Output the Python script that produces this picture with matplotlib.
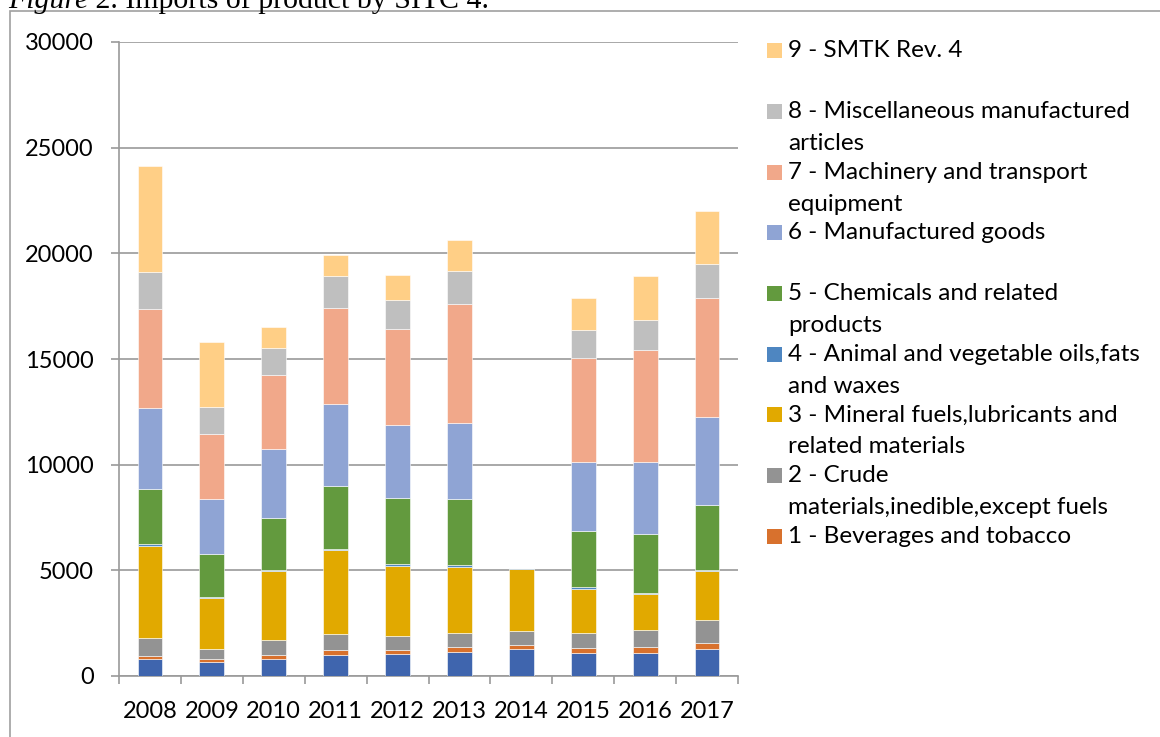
import matplotlib
matplotlib.use("Agg")
import matplotlib.pyplot as plt
from matplotlib.patches import Rectangle
import numpy as np

plt.rcParams['font.family'] = ['Lato', 'DejaVu Sans']

years = ['2008', '2009', '2010', '2011', '2012', '2013', '2014', '2015', '2016', '2017']

# imports by SITC section, bottom of the stack first
s0_food = [820, 680, 820, 1010, 1055, 1150, 1260, 1070, 1070, 1260]
s1_beverages = [130, 140, 175, 200, 190, 235, 190, 235, 300, 300]
s2_crude = [840, 470, 695, 800, 630, 630, 690, 740, 800, 1090]
s3_fuels = [4380, 2380, 3280, 3970, 3340, 3150, 2900, 2080, 1720, 2300]
s4_oils = [80, 60, 50, 50, 65, 80, 65, 80, 35, 60]
s5_chemicals = [2590, 2020, 2470, 2980, 3120, 3150, 0, 2650, 2775, 3105]
s6_goods = [3860, 2630, 3260, 3860, 3500, 3580, 0, 3280, 3435, 4140]
s7_machinery = [4650, 3090, 3470, 4560, 4540, 5640, 0, 4930, 5310, 5640]
s8_misc = [1750, 1260, 1310, 1510, 1350, 1560, 0, 1325, 1420, 1610]
s9_smtk = [5010, 3090, 980, 960, 1170, 1435, 0, 1515, 2065, 2475]

series = [s0_food, s1_beverages, s2_crude, s3_fuels, s4_oils,
          s5_chemicals, s6_goods, s7_machinery, s8_misc, s9_smtk]
colors = ['#3F65AE', '#D8712D', '#939393', '#E1A900', '#4E86C1',
          '#639A3E', '#8FA4D4', '#F1A88A', '#BFBFBF', '#FFCF86']

# legend text as wrapped in the original (entry 0 is cut off there)
legend_lines = [
    ['1 - Beverages and tobacco'],
    ['2 - Crude', 'materials,inedible,except fuels'],
    ['3 - Mineral fuels,lubricants and', 'related materials'],
    ['4 - Animal and vegetable oils,fats', 'and waxes'],
    ['5 - Chemicals and related', 'products'],
    ['6 - Manufactured goods'],
    ['7 - Machinery and transport', 'equipment'],
    ['8 - Miscellaneous manufactured', 'articles'],
    ['9 - SMTK Rev. 4'],
]

W, H = 1160, 737
fig = plt.figure(figsize=(W / 100, H / 100), dpi=100)
ax = fig.add_axes([119 / W, (H - 676) / H, (738 - 119) / W, (676 - 42) / H])

grid_c = '#9A9A9A'
x = np.arange(len(years))
bottom = np.zeros(len(years))
for vals, c in zip(series, colors):
    ax.bar(x, vals, width=0.4, bottom=bottom, color=c,
           edgecolor='white', linewidth=0.4, zorder=3)
    bottom += np.array(vals)

ax.set_xlim(-0.5, len(years) - 0.5)
ax.set_ylim(0, 30000)
ax.set_yticks(np.arange(0, 30001, 5000))
ax.set_xticks(x)
ax.set_xticklabels(years)
ax.set_xticks(np.arange(-0.5, len(years), 1), minor=True)
ax.grid(axis='y', color=grid_c, linewidth=1.2, zorder=0)
ax.tick_params(axis='y', length=6, width=1.2, color=grid_c, pad=12, labelsize=17)
ax.tick_params(axis='x', which='major', length=0, pad=18, labelsize=17)
ax.tick_params(axis='x', which='minor', length=6, width=1.2, color=grid_c)
for side in ['top', 'right']:
    ax.spines[side].set_visible(False)
for side in ['left', 'bottom']:
    ax.spines[side].set_color(grid_c)
    ax.spines[side].set_linewidth(1.2)

# legend drawn by hand: every entry takes two lines
for k, lines in enumerate(reversed(legend_lines)):
    y0 = 50.7 + k * 60.7
    color = colors[9 - k]
    fig.add_artist(Rectangle((767 / W, 1 - (y0 + 7.5) / H), 15 / W, 15 / H,
                             transform=fig.transFigure, color=color, lw=0))
    for j, line in enumerate(lines):
        fig.text(788 / W, 1 - (y0 + j * 32) / H, line, fontsize=17.5,
                 va='center', ha='left')

# chart border
fig.add_artist(Rectangle((10 / W, -0.1), 1.2, (H - 10.5) / H + 0.1,
                         transform=fig.transFigure, fill=False,
                         ec='#A0A0A0', lw=1.2))

# caption above the chart, cut off by the top edge
t1 = fig.text(8 / W, 1 - 7.5 / H, 'Figure', fontsize=21.5, style='italic',
              family='Liberation Serif', va='baseline')
fig.canvas.draw()
bb = t1.get_window_extent()
fig.text(bb.x1 / W, 1 - 7.5 / H, ' 2. Imports of product by SITC 4.', fontsize=21.5,
         family='Liberation Serif', va='baseline')

fig.savefig('out.png', dpi=100)
